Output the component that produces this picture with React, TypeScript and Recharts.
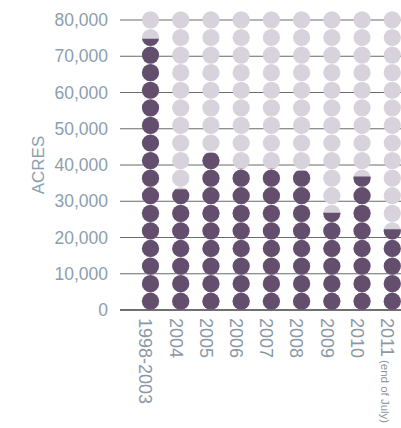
import * as React from 'react';
import { BarChart, Bar, XAxis, YAxis, CartesianGrid } from 'recharts';

// values
const categories = ['1998-2003', '2004', '2005', '2006', '2007', '2008', '2009', '2010', '2011'];
const acres = [74800, 33300, 43400, 39000, 39000, 38400, 26800, 36800, 22300];
const labelNotes = ['', '', '', '', '', '', '', '', '(end of July)'];
const yTicks = [0, 10000, 20000, 30000, 40000, 50000, 60000, 70000, 80000];

const data = categories.map((c, i) => ({ name: c, acres: acres[i], note: labelNotes[i] }));

const DOT_COUNT = 17;
const DOT_STEP = 4850; // acres between dot centres
const DOT_R = 8.6;
const DARK = '#634e6e';
const LIGHT = '#d7d2db';
const TEXT = '#8d9eac';
const FONT = '"Liberation Sans", Arial, sans-serif';

const DotColumn = (props: any) => {
    const { x, y, width, height, payload, index } = props;
    if (!payload || !payload.acres) return null;
    const cx = x + width / 2;
    const base = y + height;
    const ppu = height / payload.acres;
    const id = `dot-clip-${index}`;
    const centres: number[] = [];
    for (let i = 0; i < DOT_COUNT; i++) centres.push(base - (i + 0.5) * DOT_STEP * ppu);
    return (
        <g>
            <defs>
                <clipPath id={id}>
                    <rect x={cx - 20} y={y} width={40} height={height + 20} />
                </clipPath>
            </defs>
            {centres.map((cy, i) => <circle key={'l' + i} cx={cx} cy={cy} r={DOT_R} fill={LIGHT} />)}
            <g clipPath={`url(#${id})`}>
                {centres.map((cy, i) => <circle key={'d' + i} cx={cx} cy={cy} r={DOT_R} fill={DARK} />)}
            </g>
        </g>
    );
}

const YearTick = (props: any) => {
    const { x, y, payload, index } = props;
    const note = labelNotes[index];
    return (
        <text transform={`translate(${x - 4.5},${y + 8}) rotate(90)`} dy="0.35em" textAnchor="start"
            fill="#8c98a4" fontSize={18} fontFamily={FONT}>
            {payload.value}
            {note ? <tspan fontSize={11.5}>{'  ' + note}</tspan> : null}
        </text>
    );
}

const AcresLabel = (props: any) => {
    const vb = props.viewBox || { x: 0, y: 0, width: 0, height: 0 };
    const cx = vb.x + 38;
    const cy = vb.y + vb.height / 2;
    return (
        <text transform={`translate(${cx},${cy}) rotate(-90)`} dy="0.35em" textAnchor="middle"
            fill={TEXT} fontSize={17} fontFamily={FONT}>ACRES</text>
    );
}

export default function App() {
    return (
        <div style={{ position: 'absolute', left: 0, top: 0, width: 401, height: 428, overflow: 'hidden', background: '#fff' }}>
            <BarChart width={410} height={428} data={data} margin={{ top: 20, right: 0, bottom: 0, left: 0 }}>
                <CartesianGrid vertical={false} stroke="#6a6a6a" strokeWidth={1} />
                <XAxis dataKey="name" height={118} tickLine={false} tickSize={0} tickMargin={0}
                    axisLine={{ stroke: '#5a5a5a', strokeWidth: 1.5 }} padding={{ left: 15, right: 3 }}
                    interval={0} tick={<YearTick />} />
                <YAxis width={120} domain={[0, 80000]} ticks={yTicks} axisLine={false} tickLine={false}
                    tickSize={0} tickMargin={12} interval={0}
                    tickFormatter={(v: number) => v.toLocaleString('en-US')}
                    tick={{ fill: TEXT, fontSize: 17.5, fontFamily: FONT }}
                    label={<AcresLabel />} />
                <Bar dataKey="acres" barSize={17} shape={<DotColumn />} isAnimationActive={false} />
            </BarChart>
        </div>
    );
}
